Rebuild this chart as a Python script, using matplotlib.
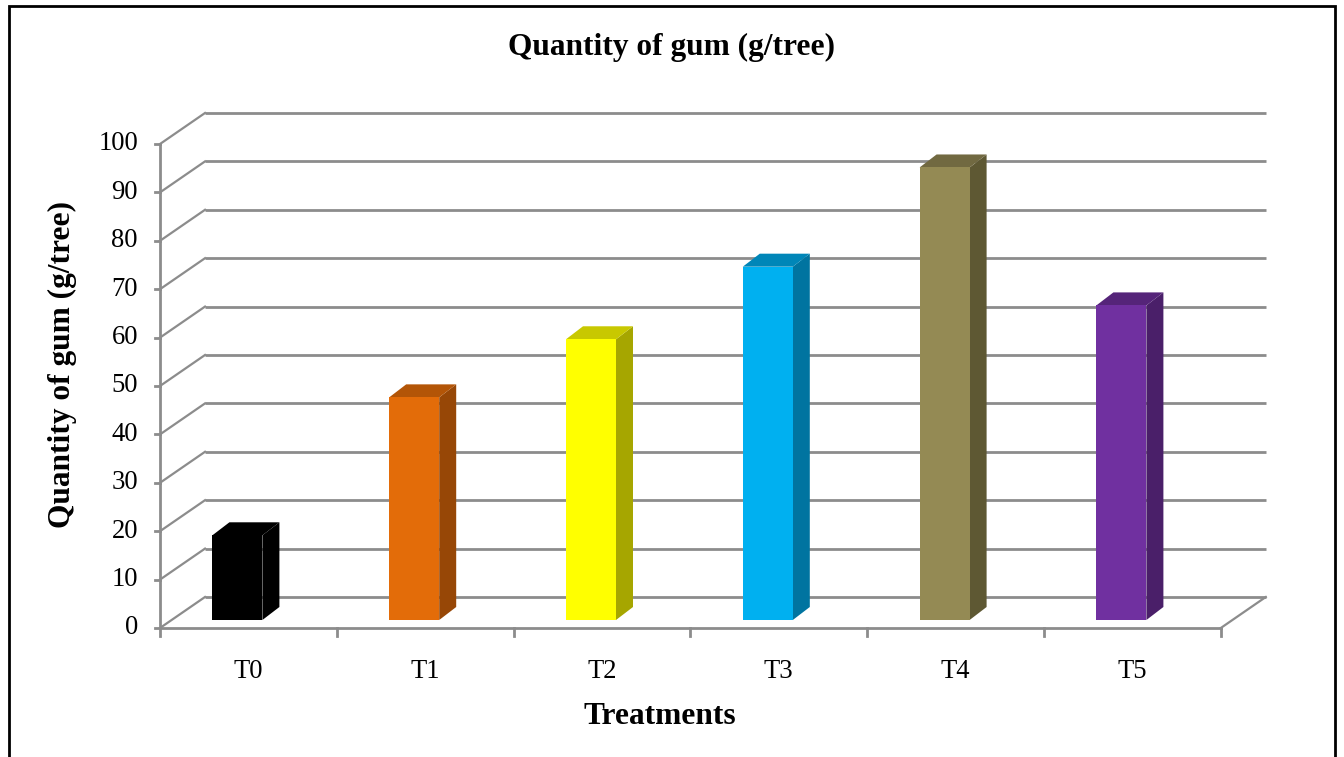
import matplotlib
matplotlib.use('Agg')
import matplotlib.pyplot as plt
from matplotlib.patches import Polygon, Rectangle

# gum yield per treatment
treatments = ['T0', 'T1', 'T2', 'T3', 'T4', 'T5']
gum_g_per_tree = [17.5, 46, 58, 73, 93.5, 65]
y_ticks = list(range(0, 101, 10))

front_colors = ['#000000', '#E36C09', '#FFFF00', '#00B0F0', '#948A54', '#7030A0']
top_colors = ['#000000', '#B35507', '#C8C800', '#0086B8', '#716941', '#552479']
side_colors = ['#000000', '#974706', '#A6A600', '#0074A0', '#5E5833', '#4A1F69']

W, H = 1344, 757
fig = plt.figure(figsize=(W / 100, H / 100), dpi=100)
ax = fig.add_axes([0, 0, 1, 1])

# data units: one category per x unit, value units on y
x0_px, cat_px = 160, 176.8
y0_px, unit_px = 628, 4.84
ax.set_xlim((0 - x0_px) / cat_px, (W - x0_px) / cat_px)
ax.set_ylim((y0_px - H) / unit_px, y0_px / unit_px)
ax.axis('off')

n = len(treatments)
grid_col = '#8C8C8C'
glw = 2.0
# depth of the floor / back wall
wall_dx, wall_dy = 45 / cat_px, 31 / unit_px

# back wall gridlines and side-wall diagonals
for v in y_ticks:
    ax.plot([wall_dx, n + wall_dx], [v + wall_dy, v + wall_dy],
            color=grid_col, lw=glw, zorder=1, solid_capstyle='butt')
    ax.plot([0, wall_dx], [v, v + wall_dy], color=grid_col, lw=glw * 0.8, zorder=1)
    ax.plot([-5 / cat_px, 0], [v, v], color=grid_col, lw=glw, zorder=2)
    ax.text(-22 / cat_px, v, str(v), ha='right', va='center',
            fontsize=19.2, family='Liberation Serif', color='black')

# floor edges and front value axis
ax.plot([0, n], [0, 0], color=grid_col, lw=glw, zorder=2)
ax.plot([n, n + wall_dx], [0, wall_dy], color=grid_col, lw=glw * 0.8, zorder=1)
ax.plot([0, 0], [0, 100], color=grid_col, lw=glw, zorder=2)
for i in range(n + 1):
    ax.plot([i, i], [0, -8 / unit_px], color=grid_col, lw=glw, zorder=2)

# 3D-looking columns
base = 8 / unit_px
bar_w = 50 / cat_px
shift = 11 / cat_px
bar_dx, bar_dy = 17 / cat_px, 13 / unit_px
for i, (v, fc, tc, sc) in enumerate(zip(gum_g_per_tree, front_colors, top_colors, side_colors)):
    left = i + 0.5 - shift - bar_w / 2
    right = left + bar_w
    top = base + v
    ax.add_patch(Polygon([(right, base), (right + bar_dx, base + bar_dy),
                          (right + bar_dx, top + bar_dy), (right, top)],
                         closed=True, facecolor=sc, edgecolor='none', zorder=3))
    ax.add_patch(Polygon([(left, top), (left + bar_dx, top + bar_dy),
                          (right + bar_dx, top + bar_dy), (right, top)],
                         closed=True, facecolor=tc, edgecolor='none', zorder=3))
    ax.add_patch(Rectangle((left, base), bar_w, v, facecolor=fc,
                           edgecolor='none', zorder=4))
    ax.text(i + 0.5, -44 / unit_px, treatments[i], ha='center', va='center',
            fontsize=19.2, family='Liberation Serif', color='black')

fig.text(672 / W, 1 - 47 / H, 'Quantity of gum (g/tree)', ha='center', va='center',
         fontsize=22.6, fontweight='bold', family='Liberation Serif')
fig.text(660 / W, 1 - 717 / H, 'Treatments', ha='center', va='center',
         fontsize=22.6, fontweight='bold', family='Liberation Serif')
fig.text(62 / W, 1 - 365 / H, 'Quantity of gum (g/tree)', ha='center', va='center',
         rotation=90, fontsize=22.6, fontweight='bold', family='Liberation Serif')

# outer frame
fig.patches.append(Rectangle((8.5 / W, -0.02), (1335 - 8.5) / W, 1.02 - 5.5 / H,
                             transform=fig.transFigure, fill=False,
                             edgecolor='black', lw=2.0))

plt.savefig('out.png', dpi=100)
plt.close()
